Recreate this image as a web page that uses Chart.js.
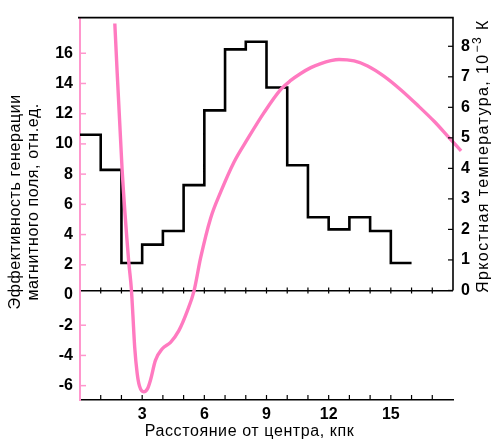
<!DOCTYPE html>
<html>
<head>
<meta charset="utf-8">
<script src="https://cdn.jsdelivr.net/npm/chart.js@4/dist/chart.umd.min.js"></script>
<style>
  html, body { margin: 0; padding: 0; background: #fff; }
  #wrap { width: 501px; height: 442px; position: relative; }
</style>
</head>
<body>
<div id="wrap"><canvas id="chart"></canvas></div>
<script>
// Эффективность генерации поля (розовая кривая, левая ось)
const distKpc = [1.68, 2.03, 2.35, 2.48, 2.55, 2.64, 2.76, 2.87, 3.08, 3.26, 3.40, 3.64, 3.97, 4.37, 4.77, 5.18, 5.50, 5.82, 6.30, 6.79, 7.43, 8.08, 8.88, 9.69, 10.17, 10.65, 11.14, 11.62, 12.10, 12.50, 13.23, 13.88, 14.68, 15.49, 16.29, 17.10, 17.74, 18.39];
const efficiency = [17.97, 8.35, 2.23, 0.37, -1.27, -3.46, -5.2, -6.03, -6.41, -6.2, -5.64, -4.33, -3.56, -3.13, -2.36, -1.05, 0.26, 2.45, 5.07, 6.82, 8.79, 10.31, 12.07, 13.61, 14.2, 14.66, 15.05, 15.32, 15.51, 15.59, 15.49, 15.16, 14.47, 13.57, 12.56, 11.48, 10.52, 9.54];

// Яркостная температура по кольцам шириной 1 кпк (правая ось)
const binEdges = [0, 1, 2, 3, 4, 5, 6, 7, 8, 9, 10, 11, 12, 13, 14, 15, 16];
const brightTemp = [5.1, 3.95, 0.9, 1.5, 1.95, 3.45, 5.9, 7.9, 8.15, 6.65, 4.1, 2.4, 2.0, 2.4, 1.95, 0.9];

const xTickLabels = [3, 6, 9, 12, 15];
const leftTickLabels = [16, 14, 12, 10, 8, 6, 4, 2, 0, -2, -4, -6];
const rightTickLabels = [0, 1, 2, 3, 4, 5, 6, 7, 8];

const xTitle = 'Расстояние от центра, кпк';
const leftTitle = ['Эффективность генерации', 'магнитного поля, отн.ед.'];
const rightTitle = ['Яркостная температура, 10', '−3', ' К'];

const PINK = 'rgb(255,122,192)';
const AXIS_PINK = 'rgb(255,150,205)';
const TICK_FONT = { family: '"Liberation Sans", Arial, sans-serif', size: 16, weight: 'bold' };
const TITLE_FONT = '16px "Liberation Sans", Arial, sans-serif';

// ступенчатая линия: значение держится до следующей границы
const stepData = binEdges.map((e, i) => ({ x: e, y: brightTemp[Math.min(i, brightTemp.length - 1)] }));
const curveData = distKpc.map((d, i) => ({ x: d, y: efficiency[i] }));

// рамка сверху, правая ось до нуля, засечки внутрь
const frame = {
  id: 'frame',
  afterDraw(chart) {
    const { ctx, chartArea: a, scales: { x, yL, yR } } = chart;
    const y0 = yR.getPixelForValue(0);
    ctx.save();
    ctx.strokeStyle = '#000';
    ctx.lineWidth = 1.6;
    ctx.beginPath();
    ctx.moveTo(a.left - 2, a.top);
    ctx.lineTo(a.right, a.top);
    ctx.lineTo(a.right, y0);
    ctx.stroke();

    ctx.lineWidth = 1.2;
    x.ticks.forEach(t => {
      if (t.value <= 0 || t.value >= 18) return;
      const px = x.getPixelForValue(t.value);
      ctx.beginPath();
      ctx.moveTo(px, y0 - 3); ctx.lineTo(px, y0 + 3);
      ctx.moveTo(px, a.bottom); ctx.lineTo(px, a.bottom - 5);
      ctx.stroke();
    });
    yR.ticks.forEach(t => {
      if (!rightTickLabels.includes(t.value)) return;
      const py = yR.getPixelForValue(t.value);
      ctx.beginPath(); ctx.moveTo(a.right - 5, py); ctx.lineTo(a.right, py); ctx.stroke();
    });

    ctx.strokeStyle = AXIS_PINK;
    ctx.lineWidth = 1.5;
    yL.ticks.forEach(t => {
      if (!leftTickLabels.includes(t.value) || t.value === 0) return;
      const py = yL.getPixelForValue(t.value);
      ctx.beginPath(); ctx.moveTo(a.left, py); ctx.lineTo(a.left + 6, py); ctx.stroke();
    });
    ctx.restore();
  }
};

// подписи осей (повёрнутые снизу вверх, с показателем степени справа)
const titles = {
  id: 'titles',
  afterDraw(chart) {
    const { ctx, chartArea: a } = chart;
    const midY = (a.top + a.bottom) / 2 - 7;
    ctx.save();
    ctx.fillStyle = '#000';
    ctx.font = TITLE_FONT;
    ctx.textBaseline = 'middle';

    ctx.letterSpacing = '0.6px';
    ctx.textAlign = 'center';
    ctx.fillText(xTitle, chart.width / 2 - 1, 432);

    ctx.save();
    ctx.translate(16, midY);
    ctx.rotate(-Math.PI / 2);
    ctx.fillText(leftTitle[0], 0, 0);
    ctx.fillText(leftTitle[1], 0, 18);
    ctx.restore();

    ctx.save();
    ctx.letterSpacing = '1.4px';
    ctx.translate(484, 293);
    ctx.rotate(-Math.PI / 2);
    ctx.textAlign = 'left';
    let pos = 0;
    ctx.fillText(rightTitle[0], pos, 0);
    pos += ctx.measureText(rightTitle[0]).width + 1;
    ctx.font = '12px "Liberation Sans", Arial, sans-serif';
    ctx.fillText(rightTitle[1], pos, -6);
    pos += ctx.measureText(rightTitle[1]).width;
    ctx.font = TITLE_FONT;
    ctx.fillText(rightTitle[2], pos, 0);
    ctx.restore();
    ctx.restore();
  }
};

new Chart(document.getElementById('chart'), {
  type: 'line',
  data: {
    datasets: [
      {
        data: curveData,
        yAxisID: 'yL',
        borderColor: PINK,
        borderWidth: 3.4,
        pointRadius: 0,
        cubicInterpolationMode: 'monotone',
        clip: false
      },
      {
        data: stepData,
        yAxisID: 'yR',
        borderColor: '#000',
        borderWidth: 2.6,
        pointRadius: 0,
        stepped: 'before'
      }
    ]
  },
  options: {
    responsive: true,
    maintainAspectRatio: false,
    animation: false,
    layout: { padding: { top: 14, left: 0, right: 0, bottom: 0 } },
    plugins: { legend: { display: false }, tooltip: { enabled: false } },
    scales: {
      x: {
        type: 'linear', min: 0, max: 18,
        grid: { display: false, drawTicks: false, tickLength: 0 },
        border: { color: '#000', width: 1.6 },
        ticks: {
          stepSize: 1, autoSkip: false, maxRotation: 0, padding: 5,
          color: '#000', font: TICK_FONT,
          callback: v => xTickLabels.includes(v) ? String(v) : ''
        },
        afterFit: s => { s.height = 42; }
      },
      yL: {
        position: 'left', min: -6.95, max: 18.36,
        grid: { display: false, drawTicks: false, tickLength: 0 },
        border: { color: AXIS_PINK, width: 2 },
        ticks: {
          stepSize: 2, includeBounds: false, autoSkip: false, padding: 7,
          color: '#000', font: TICK_FONT,
          callback: v => leftTickLabels.includes(v) ? String(v) : ''
        },
        afterFit: s => { s.width = 80; }
      },
      yR: {
        position: 'right', min: -3.59, max: 8.94,
        border: { display: false },
        grid: {
          drawTicks: false, tickLength: 0,
          color: c => c.tick && c.tick.value === 0 ? '#000' : 'rgba(0,0,0,0)',
          lineWidth: 1.6
        },
        ticks: {
          stepSize: 1, includeBounds: false, autoSkip: false, padding: 8,
          color: '#000', font: TICK_FONT,
          callback: v => rightTickLabels.includes(v) ? String(v) : ''
        },
        afterFit: s => { s.width = 48; }
      }
    }
  },
  plugins: [frame, titles]
});
</script>
</body>
</html>
